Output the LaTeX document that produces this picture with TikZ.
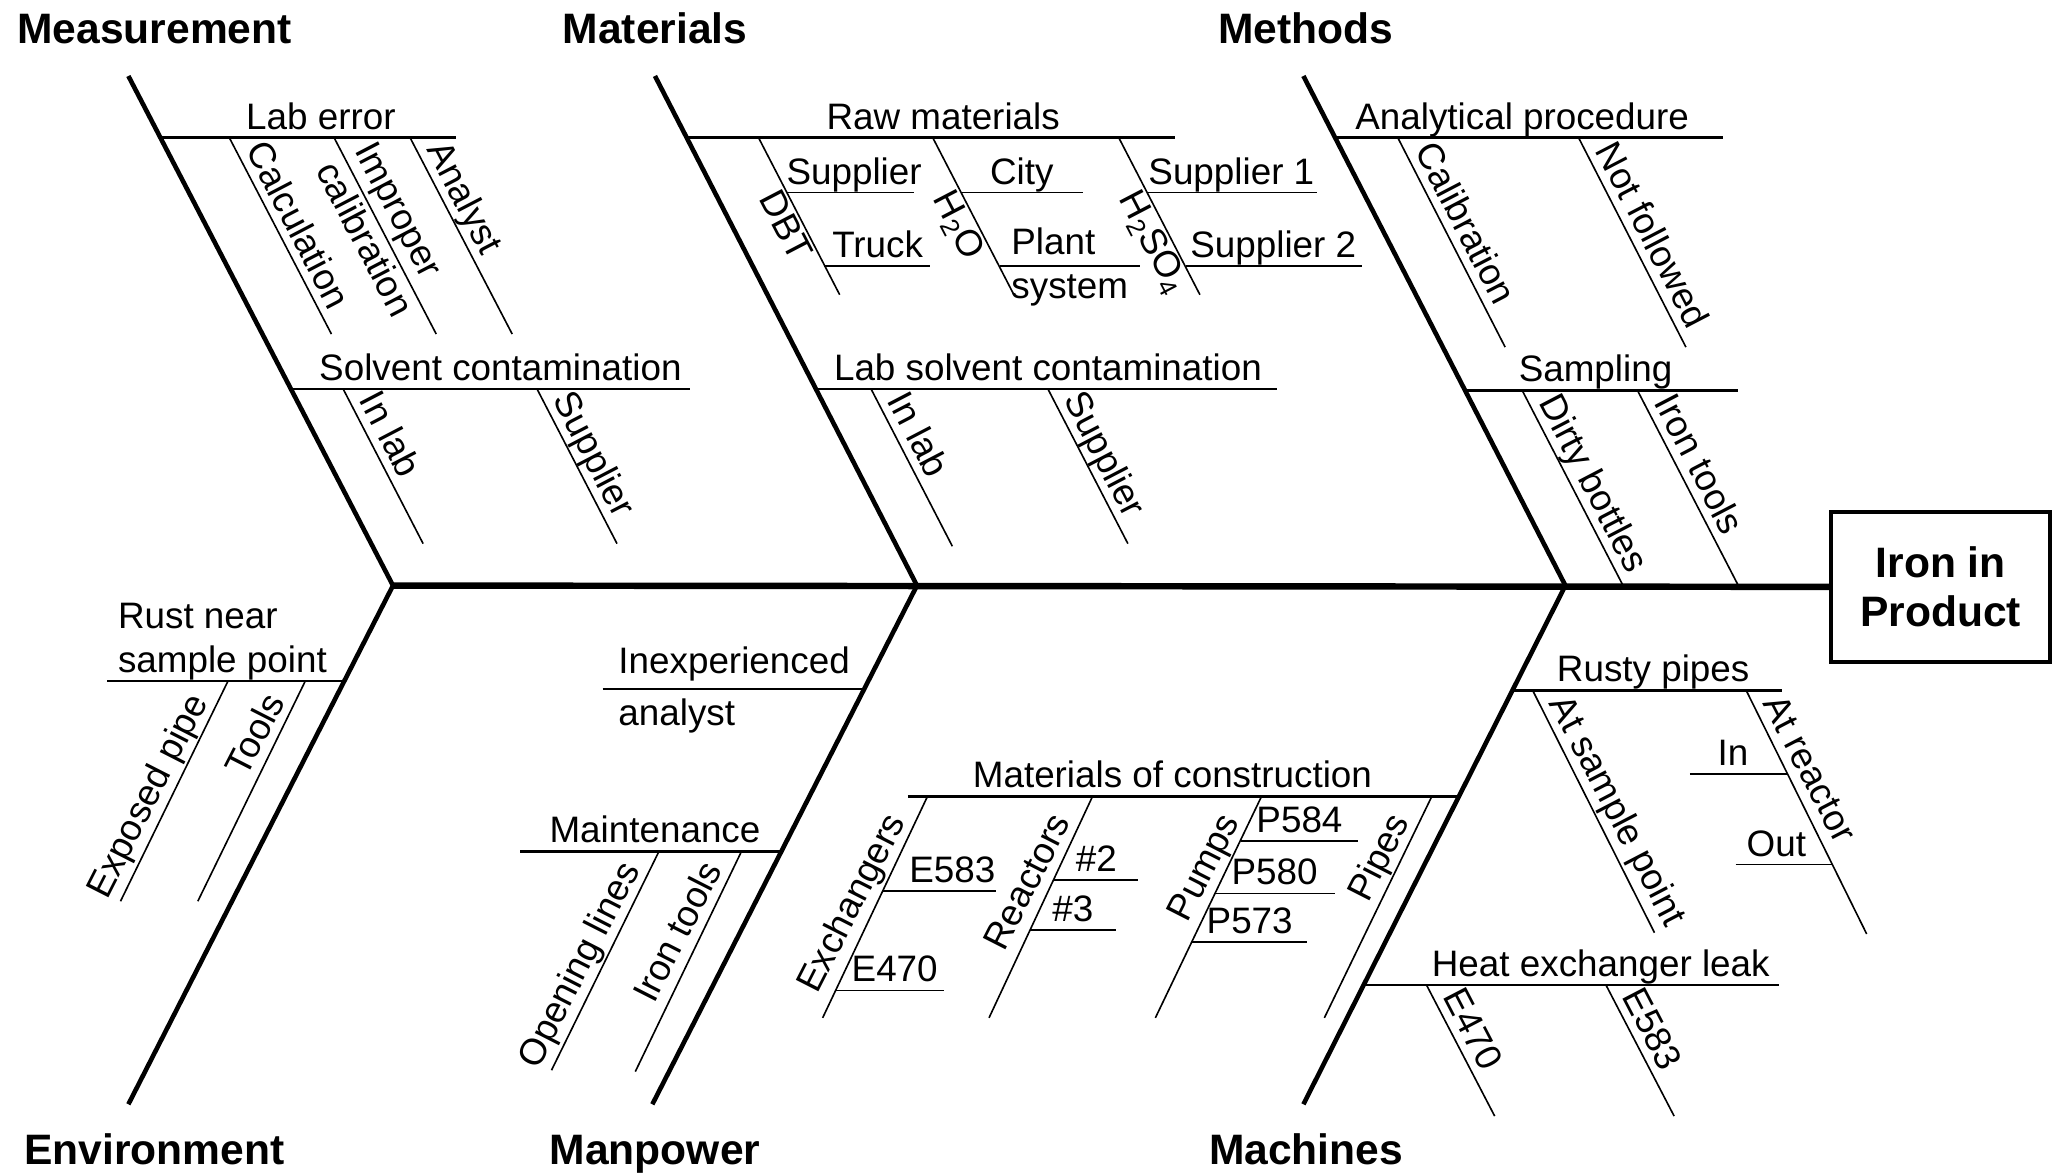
\documentclass[tikz,border=0pt]{standalone}
\usepackage{fontspec}
\setmainfont{Liberation Sans}
\usetikzlibrary{positioning, calc}

\begin{document}
\begin{tikzpicture}[
  x=0.02cm, y=-0.02cm,
  spine/.style={draw, line width=2.8pt},
  bone/.style={draw, line width=2pt},
  branch/.style={draw, line width=1.1pt},
  twig/.style={draw, line width=0.7pt},
  cat/.style={font=\fontsize{18.5}{22}\selectfont\bfseries, inner sep=0pt, anchor=base},
  lbl/.style={font=\fontsize{16}{19}\selectfont, inner sep=1pt, text depth=0.25em},
  dlbl/.style={lbl, rotate=-62.5, anchor=south west},
  ulbl/.style={lbl, rotate=63, anchor=south east},
  effect/.style={draw, line width=1.7pt, minimum width=3.34cm, minimum height=2.3cm,
    align=center, font=\fontsize{18.5}{21}\selectfont\bfseries}
  ]
  \useasboundingbox (0,0) rectangle (1568,896);

  % head and spine
  \node[effect] (iron) at (1481.5,448) {Iron in\\Product};
  \coordinate (s0) at (300,447);
  \coordinate (s1) at (700,447);
  \coordinate (s2) at (1195,447);
  \draw[spine] (s0) -- (iron.west);

  % measurement
  \node[cat] (meas) at (118,33) {Measurement};
  \coordinate (me0) at (98,58);
  \draw[bone] (me0) -- (s0);
  \coordinate (lab0) at (122,105);
  \coordinate (lab1) at (348,105);
  \draw[branch] (lab0) -- (lab1);
  \node[lbl, anchor=south] (labl) at (245,105) {Lab error};
  \coordinate (calc0) at (175,105);
  \coordinate (calc1) at (253,255);
  \draw[twig] (calc0) -- (calc1);
  \node[dlbl] (calcl) at ($(calc0)!0.07!(calc1)$) {Calculation};
  \coordinate (impr0) at (255,105);
  \coordinate (impr1) at (333,255);
  \draw[twig] (impr0) -- (impr1);
  \node[lbl, rotate=-62.5, anchor=west, align=left] (imprl) at ($(impr0)!0.08!(impr1)$) {Improper\\calibration};
  \coordinate (anal0) at (313,105);
  \coordinate (anal1) at (391,255);
  \draw[twig] (anal0) -- (anal1);
  \node[dlbl] (anall) at ($(anal0)!0.07!(anal1)$) {Analyst};
  \coordinate (solv0) at (222,297);
  \coordinate (solv1) at (527,297);
  \draw[branch] (solv0) -- (solv1);
  \node[lbl, anchor=south] (solvl) at (382,297) {Solvent contamination};
  \coordinate (inl0) at (262,297);
  \coordinate (inl1) at (323,415);
  \draw[twig] (inl0) -- (inl1);
  \node[dlbl] (inll) at ($(inl0)!0.08!(inl1)$) {In lab};
  \coordinate (sup0) at (410,297);
  \coordinate (sup1) at (471,415);
  \draw[twig] (sup0) -- (sup1);
  \node[dlbl] (supl) at ($(sup0)!0.08!(sup1)$) {Supplier};

  % materials
  \node[cat] (mat) at (500,33) {Materials};
  \coordinate (ma0) at (500,58);
  \draw[bone] (ma0) -- (s1);
  \coordinate (raw0) at (524,105);
  \coordinate (raw1) at (897,105);
  \draw[branch] (raw0) -- (raw1);
  \node[lbl, anchor=south] (rawl) at (720,105) {Raw materials};
  \coordinate (dbt0) at (579,105);
  \coordinate (dbt1) at (641,225);
  \draw[twig] (dbt0) -- (dbt1);
  \node[lbl, rotate=-62.5, anchor=north west] (dbtl) at ($(dbt0)!0.29!(dbt1)$) {DBT};
  \coordinate (sa0) at (601,147);
  \coordinate (sa1) at (698,147);
  \draw[twig] (sa0) -- (sa1);
  \node[lbl, anchor=south] (sal) at (652,147) {Supplier};
  \coordinate (tr0) at (629,203);
  \coordinate (tr1) at (710,203);
  \draw[twig] (tr0) -- (tr1);
  \node[lbl, anchor=south] (trl) at (670,203) {Truck};
  \coordinate (wat0) at (712,105);
  \coordinate (wat1) at (774,225);
  \draw[twig] (wat0) -- (wat1);
  \node[lbl, rotate=-62.5, anchor=north west] (watl) at ($(wat0)!0.29!(wat1)$) {H\textsubscript{2}O};
  \coordinate (city0) at (734,147);
  \coordinate (city1) at (827,147);
  \draw[twig] (city0) -- (city1);
  \node[lbl, anchor=south] (cityl) at (780,147) {City};
  \coordinate (pl0) at (763,203);
  \coordinate (pl1) at (870,203);
  \draw[twig] (pl0) -- (pl1);
  \node[lbl, anchor=west, align=left] (pll) at (770,203) {Plant\\system};
  \coordinate (acid0) at (854,105);
  \coordinate (acid1) at (916,225);
  \draw[twig] (acid0) -- (acid1);
  \node[lbl, rotate=-62.5, anchor=north west] (acidl) at ($(acid0)!0.29!(acid1)$) {H\textsubscript{2}SO\textsubscript{4}};
  \coordinate (so0) at (876,147);
  \coordinate (so1) at (1005,147);
  \draw[twig] (so0) -- (so1);
  \node[lbl, anchor=south] (sol) at (940,147) {Supplier 1};
  \coordinate (st0) at (905,203);
  \coordinate (st1) at (1040,203);
  \draw[twig] (st0) -- (st1);
  \node[lbl, anchor=south] (stl) at (972,203) {Supplier 2};
  \coordinate (lsc0) at (623,297);
  \coordinate (lsc1) at (975,297);
  \draw[branch] (lsc0) -- (lsc1);
  \node[lbl, anchor=south] (lscl) at (800,297) {Lab solvent contamination};
  \coordinate (inm0) at (665,297);
  \coordinate (inm1) at (727,417);
  \draw[twig] (inm0) -- (inm1);
  \node[dlbl] (inml) at ($(inm0)!0.08!(inm1)$) {In lab};
  \coordinate (spm0) at (800,297);
  \coordinate (spm1) at (861,415);
  \draw[twig] (spm0) -- (spm1);
  \node[dlbl] (spml) at ($(spm0)!0.08!(spm1)$) {Supplier};

  % methods
  \node[cat] (meth) at (997,33) {Methods};
  \coordinate (mt0) at (995,58);
  \draw[bone] (mt0) -- (s2);
  \coordinate (anp0) at (1019,105);
  \coordinate (anp1) at (1315,105);
  \draw[branch] (anp0) -- (anp1);
  \node[lbl, anchor=south] (anpl) at (1162,105) {Analytical procedure};
  \coordinate (cal0) at (1067,105);
  \coordinate (cal1) at (1149,265);
  \draw[twig] (cal0) -- (cal1);
  \node[dlbl] (call) at ($(cal0)!0.07!(cal1)$) {Calibration};
  \coordinate (nf0) at (1205,105);
  \coordinate (nf1) at (1287,265);
  \draw[twig] (nf0) -- (nf1);
  \node[dlbl] (nfl) at ($(nf0)!0.07!(nf1)$) {Not followed};
  \coordinate (smp0) at (1118,298);
  \coordinate (smp1) at (1327,298);
  \draw[branch] (smp0) -- (smp1);
  \node[lbl, anchor=south] (smpl) at (1218,298) {Sampling};
  \coordinate (db0) at (1162,298);
  \coordinate (db1) at (1239,447);
  \draw[twig] (db0) -- (db1);
  \node[dlbl] (dbl) at ($(db0)!0.07!(db1)$) {Dirty bottles};
  \coordinate (it0) at (1250,298);
  \coordinate (it1) at (1327,447);
  \draw[twig] (it0) -- (it1);
  \node[dlbl] (itl) at ($(it0)!0.07!(it1)$) {Iron tools};

  % environment
  \node[cat] (env) at (118,889) {Environment};
  \coordinate (en1) at (98,843);
  \draw[bone] (s0) -- (en1);
  \coordinate (rust0) at (82,520);
  \coordinate (rust1) at (263,520);
  \draw[branch] (rust0) -- (rust1);
  \node[lbl, anchor=south west, align=left] (rustl) at (88,520) {Rust near\\sample point};
  \coordinate (exp0) at (174,520);
  \coordinate (exp1) at (92,688);
  \draw[twig] (exp0) -- (exp1);
  \node[ulbl] (expl) at ($(exp0)!0.1!(exp1)$) {Exposed pipe};
  \coordinate (tl0) at (233,520);
  \coordinate (tl1) at (151,688);
  \draw[twig] (tl0) -- (tl1);
  \node[ulbl] (tll) at ($(tl0)!0.1!(tl1)$) {Tools};

  % manpower
  \node[cat] (man) at (500,889) {Manpower};
  \coordinate (mp1) at (498,843);
  \draw[bone] (s1) -- (mp1);
  \coordinate (inx0) at (460,526);
  \coordinate (inx1) at (660,526);
  \draw[branch] (inx0) -- (inx1);
  \node[lbl, anchor=west, align=left] (inxl) at (470,526) {Inexperienced\\[4pt]analyst};
  \coordinate (mnt0) at (397,650);
  \coordinate (mnt1) at (596,650);
  \draw[branch] (mnt0) -- (mnt1);
  \node[lbl, anchor=south] (mntl) at (500,650) {Maintenance};
  \coordinate (op0) at (503,650);
  \coordinate (op1) at (421,817);
  \draw[twig] (op0) -- (op1);
  \node[ulbl] (opl) at ($(op0)!0.09!(op1)$) {Opening lines};
  \coordinate (ir0) at (566,650);
  \coordinate (ir1) at (485,818);
  \draw[twig] (ir0) -- (ir1);
  \node[ulbl] (irl) at ($(ir0)!0.09!(ir1)$) {Iron tools};

  % machines
  \node[cat] (mach) at (997,889) {Machines};
  \coordinate (mc1) at (995,843);
  \draw[bone] (s2) -- (mc1);
  \coordinate (rp0) at (1155,527);
  \coordinate (rp1) at (1360,527);
  \draw[branch] (rp0) -- (rp1);
  \node[lbl, anchor=south] (rpl) at (1262,527) {Rusty pipes};
  \coordinate (asp0) at (1170,527);
  \coordinate (asp1) at (1263,712);
  \draw[twig] (asp0) -- (asp1);
  \node[dlbl] (aspl) at ($(asp0)!0.06!(asp1)$) {At sample point};
  \coordinate (arx0) at (1333,527);
  \coordinate (arx1) at (1425,713);
  \draw[twig] (arx0) -- (arx1);
  \node[dlbl] (arxl) at ($(arx0)!0.06!(arx1)$) {At reactor};
  \coordinate (in0) at (1290,591);
  \coordinate (in1) at (1365,591);
  \draw[twig] (in0) -- (in1);
  \node[lbl, anchor=south] (inlbl) at (1323,591) {In};
  \coordinate (out0) at (1325,660);
  \coordinate (out1) at (1399,660);
  \draw[twig] (out0) -- (out1);
  \node[lbl, anchor=south] (outl) at (1356,660) {Out};
  \coordinate (moc0) at (693,608);
  \coordinate (moc1) at (1114,608);
  \draw[branch] (moc0) -- (moc1);
  \node[lbl, anchor=south] (mocl) at (895,608) {Materials of construction};
  \coordinate (ex0) at (708,608);
  \coordinate (ex1) at (628,777);
  \draw[twig] (ex0) -- (ex1);
  \node[ulbl] (exl) at ($(ex0)!0.12!(ex1)$) {Exchangers};
  \coordinate (ea0) at (674,680);
  \coordinate (ea1) at (760,680);
  \draw[twig] (ea0) -- (ea1);
  \node[lbl, anchor=south] (eal) at (727,680) {E583};
  \coordinate (eb0) at (638,756);
  \coordinate (eb1) at (721,756);
  \draw[twig] (eb0) -- (eb1);
  \node[lbl, anchor=south] (ebl) at (683,756) {E470};
  \coordinate (rc0) at (834,608);
  \coordinate (rc1) at (755,777);
  \draw[twig] (rc0) -- (rc1);
  \node[ulbl] (rcl) at ($(rc0)!0.12!(rc1)$) {Reactors};
  \coordinate (ra0) at (804,672);
  \coordinate (ra1) at (869,672);
  \draw[twig] (ra0) -- (ra1);
  \node[lbl, anchor=south] (ral) at (837,672) {\#2};
  \coordinate (rb0) at (786,710);
  \coordinate (rb1) at (852,710);
  \draw[twig] (rb0) -- (rb1);
  \node[lbl, anchor=south] (rbl) at (819,710) {\#3};
  \coordinate (pu0) at (963,608);
  \coordinate (pu1) at (882,777);
  \draw[twig] (pu0) -- (pu1);
  \node[ulbl] (pul) at ($(pu0)!0.12!(pu1)$) {Pumps};
  \coordinate (pa0) at (947,642);
  \coordinate (pa1) at (1037,642);
  \draw[twig] (pa0) -- (pa1);
  \node[lbl, anchor=south] (pal) at (992,642) {P584};
  \coordinate (pb0) at (928,682);
  \coordinate (pb1) at (1019,682);
  \draw[twig] (pb0) -- (pb1);
  \node[lbl, anchor=south] (pbl) at (973,682) {P580};
  \coordinate (pc0) at (910,719);
  \coordinate (pc1) at (998,719);
  \draw[twig] (pc0) -- (pc1);
  \node[lbl, anchor=south] (pcl) at (954,719) {P573};
  \coordinate (pi0) at (1093,608);
  \coordinate (pi1) at (1011,777);
  \draw[twig] (pi0) -- (pi1);
  \node[ulbl] (pil) at ($(pi0)!0.12!(pi1)$) {Pipes};
  \coordinate (hel0) at (1043,752);
  \coordinate (hel1) at (1358,752);
  \draw[branch] (hel0) -- (hel1);
  \node[lbl, anchor=south] (hell) at (1222,752) {Heat exchanger leak};
  \coordinate (ha0) at (1089,752);
  \coordinate (ha1) at (1141,852);
  \draw[twig] (ha0) -- (ha1);
  \node[dlbl] (hal) at ($(ha0)!0.1!(ha1)$) {E470};
  \coordinate (hb0) at (1226,752);
  \coordinate (hb1) at (1278,852);
  \draw[twig] (hb0) -- (hb1);
  \node[dlbl] (hbl) at ($(hb0)!0.1!(hb1)$) {E583};
\end{tikzpicture}
\end{document}
